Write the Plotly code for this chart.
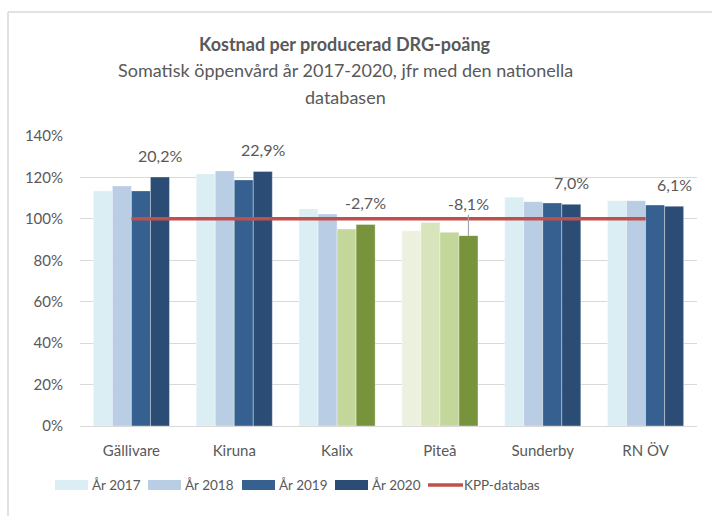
import plotly.graph_objects as go

categories = ["Gällivare", "Kiruna", "Kalix", "Piteå", "Sunderby", "RN ÖV"]
y2017 = [1.135, 1.217, 1.048, 0.942, 1.104, 1.088]
y2018 = [1.159, 1.231, 1.024, 0.983, 1.083, 1.088]
y2019 = [1.135, 1.188, 0.951, 0.935, 1.077, 1.067]
y2020 = [1.202, 1.229, 0.973, 0.919, 1.070, 1.061]
kpp = [1.0, 1.0, 1.0, 1.0, 1.0, 1.0]
series_names = ["År 2017", "År 2018", "År 2019", "År 2020"]
line_name = "KPP-databas"
tick_vals = [0, 0.2, 0.4, 0.6, 0.8, 1.0, 1.2, 1.4]
tick_text = ["0%", "20%", "40%", "60%", "80%", "100%", "120%", "140%"]

# colours per bar (blue for most units, green where below the national database)
c2017 = ["#DAEEF3", "#DAEEF3", "#DAEEF3", "#EBF1DE", "#DAEEF3", "#DAEEF3"]
c2018 = ["#B9CDE5", "#B9CDE5", "#B9CDE5", "#D8E4BC", "#B9CDE5", "#B9CDE5"]
c2019 = ["#35608F", "#35608F", "#C4D79B", "#C4D79B", "#35608F", "#35608F"]
c2020 = ["#2B4C74", "#2B4C74", "#77933C", "#77933C", "#2B4C74", "#2B4C74"]
legend_cols = ["#DAEEF3", "#B9CDE5", "#35608F", "#2B4C74"]
LINE_COL = "#C0504D"

FONT = "Lato"
GREY = "#595959"

fig = go.Figure()
for name, vals, cols in zip(series_names, [y2017, y2018, y2019, y2020], [c2017, c2018, c2019, c2020]):
    fig.add_trace(go.Bar(
        x=categories, y=vals, name=name,
        marker=dict(color=cols, line=dict(color="rgba(255,255,255,0.6)", width=0.6)),
    ))
fig.add_trace(go.Scatter(
    x=categories, y=kpp, name=line_name, mode="lines",
    line=dict(color=LINE_COL, width=3.5),
))

# plot area in pixels
L, R, T, B = 80, 697, 136, 426
W, H = 712, 516
pw, ph = R - L, B - T

def px_x(p):
    return (p - L) / pw

def px_y(p):
    return (B - p) / ph

bargap = 0.26
cat_w = pw / len(categories)
bar_w = cat_w * (1 - bargap) / 4
off2020 = 1.5 * bar_w

annotations = []
for i, (c, v) in enumerate(zip(categories, y2020)):
    diff = (v - 1.0) * 100
    txt = f"{diff:.1f}%".replace(".", ",")
    if c == "Piteå":
        annotations.append(dict(
            x=c, y=v, xref="x", yref="y", text=txt, showarrow=True,
            arrowhead=0, arrowwidth=1.2, arrowcolor="#A6A6A6", ax=0, ay=-32,
            xshift=off2020, font=dict(family=FONT, size=16, color=GREY),
        ))
    else:
        annotations.append(dict(
            x=c, y=v, xref="x", yref="y", text=txt, showarrow=False,
            yanchor="bottom", yshift=10, xshift=off2020,
            font=dict(family=FONT, size=16, color=GREY),
        ))

title_lines = [
    ("<b>Kostnad per producerad DRG-poäng</b>", 44),
    ("Somatisk öppenvård år 2017-2020, jfr med den nationella", 70),
    ("databasen", 97),
]
for txt, yy in title_lines:
    annotations.append(dict(
        x=px_x(345), y=px_y(yy), xref="paper", yref="paper", showarrow=False,
        text=txt, xanchor="center", yanchor="middle",
        font=dict(family=FONT, size=18, color=GREY),
    ))

shapes = [
    dict(type="line", xref="paper", yref="paper", x0=px_x(8), x1=px_x(715), y0=px_y(12), y1=px_y(12),
         line=dict(color="#D9D9D9", width=1.5)),
    dict(type="line", xref="paper", yref="paper", x0=px_x(8), x1=px_x(8), y0=px_y(12), y1=px_y(520),
         line=dict(color="#D9D9D9", width=1.5)),
]

# custom legend (wide swatches like the original)
leg_y = 485
sw_x = [55, 148, 242, 335]
for name, col, x0 in zip(series_names, legend_cols, sw_x):
    shapes.append(dict(type="rect", xref="paper", yref="paper",
                       x0=px_x(x0), x1=px_x(x0 + 33), y0=px_y(leg_y + 5), y1=px_y(leg_y - 5),
                       fillcolor=col, line=dict(width=0)))
    annotations.append(dict(x=px_x(x0 + 35), y=px_y(leg_y), xref="paper", yref="paper",
                            text=name, showarrow=False, xanchor="left", yanchor="middle",
                            font=dict(family=FONT, size=13.5, color=GREY)))
shapes.append(dict(type="line", xref="paper", yref="paper",
                   x0=px_x(428), x1=px_x(463), y0=px_y(leg_y), y1=px_y(leg_y),
                   line=dict(color=LINE_COL, width=3.5)))
annotations.append(dict(x=px_x(462), y=px_y(leg_y), xref="paper", yref="paper",
                        text=line_name, showarrow=False, xanchor="left", yanchor="middle",
                        font=dict(family=FONT, size=13.5, color=GREY)))

fig.update_layout(
    width=W, height=H,
    margin=dict(l=L, r=W - R, t=T, b=H - B, autoexpand=False),
    paper_bgcolor="white", plot_bgcolor="white",
    barmode="group", bargap=bargap, bargroupgap=0,
    font=dict(family=FONT, size=15, color=GREY),
    showlegend=False,
    xaxis=dict(
        showgrid=False, showline=True, linecolor="#D9D9D9", linewidth=1,
        ticks="", tickfont=dict(family=FONT, size=15, color=GREY), ticklabelstandoff=11,
    ),
    yaxis=dict(
        range=[0, 1.4], tickvals=tick_vals, ticktext=tick_text,
        showgrid=True, gridcolor="#D9D9D9", gridwidth=1, zeroline=False,
        showline=False, ticks="", tickfont=dict(family=FONT, size=15, color=GREY),
        ticklabelstandoff=16,
    ),
    annotations=annotations, shapes=shapes,
)

fig.write_html("out.html", config={"displayModeBar": False},
               post_script="document.body.style.margin='0';")
